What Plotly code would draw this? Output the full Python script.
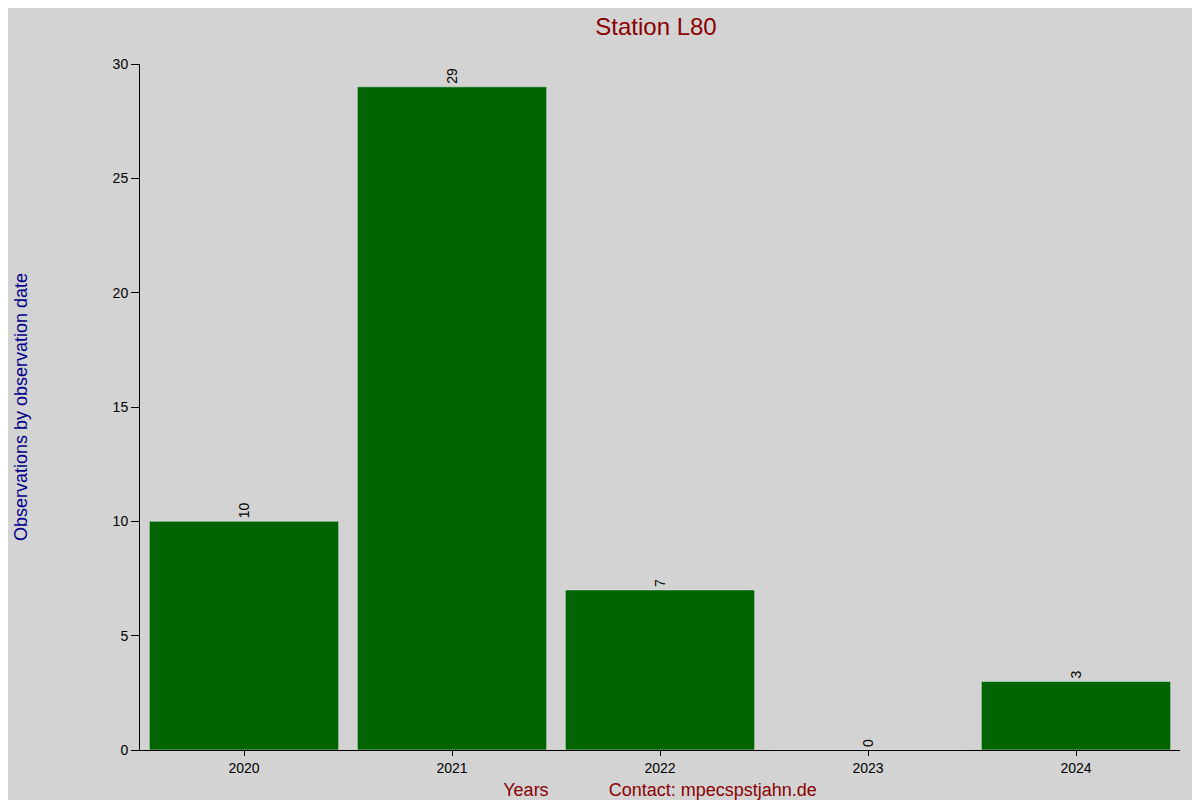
import plotly.graph_objects as go

years = ["2020", "2021", "2022", "2023", "2024"]
counts = [10, 29, 7, 0, 3]

fig = go.Figure(go.Bar(
    x=years, y=counts, marker_color="#006400",
    text=[str(c) for c in counts], textposition="outside", textangle=-90,
    textfont=dict(color="black", size=14), cliponaxis=False,
))
fig.update_layout(
    width=1200, height=800,
    paper_bgcolor="#d3d3d3", plot_bgcolor="#d3d3d3",
    font=dict(family="Liberation Sans, Arial", size=14, color="black"),
    margin=dict(l=126, r=28, t=56, b=49),
    bargap=0.09,
    showlegend=False,
    title=dict(text="Station L80", x=0.54, xanchor="center", y=0.977, yanchor="middle",
               font=dict(size=24, color="#8b0000")),
)
fig.update_xaxes(
    showgrid=False, showline=True, linecolor="black", ticks="outside", ticklen=5,
    tickcolor="black",
    title=dict(text="Years&nbsp;&nbsp;&nbsp;&nbsp;&nbsp;&nbsp;&nbsp;&nbsp;&nbsp;&nbsp;&nbsp;&nbsp;Contact: mpecspstjahn.de",
               font=dict(size=18, color="#8b0000"), standoff=8),
)
fig.update_yaxes(
    range=[0, 30], dtick=5, showgrid=False, zeroline=False, showline=True,
    linecolor="black", ticks="outside", ticklen=8, tickcolor="black",
    title=dict(text="Observations by observation date", font=dict(size=18, color="#00008b"), standoff=80),
)
fig.write_html("out.html")
